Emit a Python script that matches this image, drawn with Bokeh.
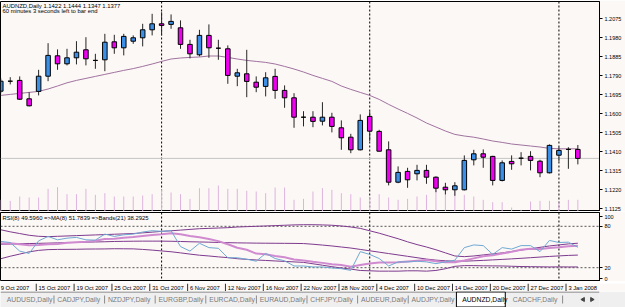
import math
from bokeh.plotting import figure
from bokeh.layouts import column
from bokeh.models import Range1d, FixedTicker, Span, Label, NumeralTickFormatter
from bokeh.embed import file_html
from bokeh.resources import INLINE
from bokeh.core.properties import value

symbol = "AUDNZD,Daily"
status_text = "60 minutes 3 seconds left to bar end"

dates = ["2007-10-09", "2007-10-10", "2007-10-11", "2007-10-12", "2007-10-15", "2007-10-16", "2007-10-17",
         "2007-10-18", "2007-10-19", "2007-10-22", "2007-10-23", "2007-10-24", "2007-10-25", "2007-10-26",
         "2007-10-29", "2007-10-30", "2007-10-31", "2007-11-01", "2007-11-02", "2007-11-05", "2007-11-06",
         "2007-11-07", "2007-11-08", "2007-11-09", "2007-11-12", "2007-11-13", "2007-11-14", "2007-11-15",
         "2007-11-16", "2007-11-19", "2007-11-20", "2007-11-21", "2007-11-22", "2007-11-23", "2007-11-26",
         "2007-11-27", "2007-11-28", "2007-11-29", "2007-11-30", "2007-12-03", "2007-12-04", "2007-12-05",
         "2007-12-06", "2007-12-07", "2007-12-10", "2007-12-11", "2007-12-12", "2007-12-13", "2007-12-14",
         "2007-12-17", "2007-12-18", "2007-12-19", "2007-12-20", "2007-12-21", "2007-12-24", "2007-12-26",
         "2007-12-27", "2007-12-28", "2007-12-31", "2008-01-02", "2008-01-03", "2008-01-04"]

opens = [1.1713, 1.1763, 1.1767, 1.1675, 1.1712, 1.1788, 1.1890, 1.1850, 1.1880, 1.1920,
         1.1867, 1.1870, 1.1960, 1.1930, 1.1963, 1.1980, 1.2020, 1.2050, 1.2047, 1.2030,
         1.1947, 1.1895, 1.1992, 1.1928, 1.1925, 1.1788, 1.1800, 1.1758, 1.1737, 1.1787,
         1.1717, 1.1680, 1.1583, 1.1583, 1.1563, 1.1583, 1.1530, 1.1483, 1.1420, 1.1587,
         1.1512, 1.1420, 1.1258, 1.1312, 1.1300, 1.1317, 1.1283, 1.1233, 1.1220, 1.1220,
         1.1370, 1.1400, 1.1387, 1.1267, 1.1362, 1.1378, 1.1387, 1.1363, 1.1305, 1.1393,
         1.1422, 1.1422]
highs = [1.1777, 1.1783, 1.1787, 1.1708, 1.1820, 1.1953, 1.1922, 1.1925, 1.1963, 1.1983,
         1.1900, 1.2000, 1.1995, 1.2000, 1.1992, 1.2050, 1.2100, 1.2108, 1.2097, 1.2067,
         1.1970, 1.2020, 1.2047, 1.1970, 1.1942, 1.1825, 1.1920, 1.1787, 1.1808, 1.1825,
         1.1742, 1.1703, 1.1613, 1.1613, 1.1658, 1.1605, 1.1567, 1.1500, 1.1597, 1.1612,
         1.1520, 1.1462, 1.1337, 1.1330, 1.1345, 1.1345, 1.1287, 1.1255, 1.1258, 1.1392,
         1.1420, 1.1422, 1.1390, 1.1367, 1.1392, 1.1408, 1.1413, 1.1370, 1.1447, 1.1433,
         1.1433, 1.1444]
lows = [1.1702, 1.1747, 1.1669, 1.1637, 1.1692, 1.1763, 1.1820, 1.1842, 1.1847, 1.1842,
        1.1825, 1.1813, 1.1900, 1.1892, 1.1950, 1.1937, 1.1992, 1.1992, 1.2025, 1.1925,
        1.1877, 1.1887, 1.1880, 1.1870, 1.1750, 1.1738, 1.1683, 1.1708, 1.1687, 1.1675,
        1.1630, 1.1530, 1.1537, 1.1533, 1.1542, 1.1507, 1.1420, 1.1403, 1.1417, 1.1463,
        1.1412, 1.1242, 1.1253, 1.1230, 1.1267, 1.1250, 1.1208, 1.1197, 1.1190, 1.1217,
        1.1342, 1.1330, 1.1242, 1.1262, 1.1320, 1.1342, 1.1317, 1.1283, 1.1302, 1.1362,
        1.1325, 1.1347]
closes = [1.1763, 1.1763, 1.1673, 1.1640, 1.1788, 1.1892, 1.1850, 1.1880, 1.1908, 1.1875,
          1.1867, 1.1958, 1.1930, 1.1987, 1.1980, 1.2020, 1.2050, 1.2042, 1.2062, 1.1947,
          1.1900, 1.1992, 1.1930, 1.1928, 1.1792, 1.1805, 1.1762, 1.1733, 1.1780, 1.1717,
          1.1680, 1.1583, 1.1583, 1.1562, 1.1583, 1.1537, 1.1480, 1.1420, 1.1567, 1.1513,
          1.1413, 1.1258, 1.1307, 1.1270, 1.1317, 1.1283, 1.1228, 1.1220, 1.1240, 1.1367,
          1.1400, 1.1383, 1.1267, 1.1355, 1.1350, 1.1378, 1.1367, 1.1305, 1.1442, 1.1417,
          1.1422, 1.1377]
volumes = [1750, 1600, 2250, 2100, 2100, 3400, 3650, 2600, 2600, 3400, 2500, 2750, 2250, 2250,
           2250, 2400, 2600, 3250, 2850, 2600, 1900, 3500, 3500, 3900, 3400, 3400, 3100, 3000,
           2750, 3600, 3600, 1750, 1900, 3000, 3500, 3250, 2750, 2600, 2100, 2100, 2600, 2100,
           1750, 1900, 2250, 2500, 3900, 2750, 3100, 2500, 2250, 1750, 1400, 1400, 600, 250,
           1500, 1600, 1600, 1400, 1750, 1750]
price_ma = [1.1692, 1.1697, 1.1702, 1.1707, 1.1712, 1.1724, 1.1739, 1.1755, 1.1767, 1.1777,
            1.1787, 1.1797, 1.1807, 1.1817, 1.1826, 1.1837, 1.1849, 1.1862, 1.1874, 1.1879,
            1.1882, 1.1884, 1.1889, 1.1889, 1.1882, 1.1874, 1.1867, 1.1862, 1.1857, 1.1849,
            1.1837, 1.1824, 1.1809, 1.1792, 1.1777, 1.1762, 1.1739, 1.1722, 1.1707, 1.1692,
            1.1672, 1.1647, 1.1624, 1.1602, 1.1579, 1.1554, 1.1534, 1.1514, 1.1497, 1.1489,
            1.1483, 1.1474, 1.1464, 1.1457, 1.1449, 1.1444, 1.1439, 1.1434, 1.1427, 1.1425,
            1.1425, 1.1425]

rsi = [58, 56.5, 44, 40.7, 58.9, 65.3, 60.4, 62.8, 63.9, 60.4, 60, 68.7, 65.3, 67.7, 68.7, 71.7,
       73.6, 72.7, 73.6, 50.6, 44.1, 55.4, 49.1, 48.1, 34.4, 34.4, 32.3, 29.4, 40.7, 33.3, 30, 22.5,
       22.5, 21.1, 21.1, 19.6, 18.6, 16.1, 43.3, 39.2, 33.3, 22.5, 28.4, 28.4, 29.4, 28.4, 25.9, 28.4,
       30.9, 49.1, 53, 52, 39.2, 49.1, 47, 52, 52, 43.3, 59.5, 56.5, 57, 49.5960]
rsi_ma = [55, 55.5, 54, 52.5, 53, 54, 54.5, 56, 57, 57.5, 59, 61.5, 62, 63.5, 64.5, 66, 67.5, 68.5,
          70, 68.5, 66, 64, 61.5, 58.5, 54, 49, 46, 40.5, 39.5, 37, 35, 32, 30.5, 28.5, 27, 25, 24,
          21.5, 24, 26, 27.5, 27.5, 28, 29, 30, 31, 29.5, 28, 28, 30.5, 33.5, 36.5, 38, 40.5, 43, 46,
          47.5, 47, 48.5, 49.5, 51, 51.7839]
band_up = [75, 72, 69.5, 67, 65.5, 65, 65.5, 66, 66.5, 67, 67.5, 68, 68.5, 69, 69.5, 70.5, 71.5,
           72.7, 73.5, 74.5, 75.5, 76.5, 77, 77.5, 78, 79, 79.5, 80, 80.5, 81, 81.5, 82, 82.3, 82.3,
           82, 81.5, 80.5, 79, 77, 73.5, 70, 66, 62, 57.5, 53.5, 50, 46, 41.5, 37, 36, 37, 38.5, 40,
           41.5, 43.5, 45.5, 47.5, 49.5, 51.5, 53, 54.5, 55.5]
band_mid = [54, 54.3, 54.6, 55, 55.3, 55.6, 56, 56.3, 56.6, 57, 57.3, 57.6, 58, 58.2, 58.4, 58.5,
            58.5, 58.5, 58.3, 58, 57.6, 57.3, 57, 56.6, 56.3, 56, 55.8, 55.6, 55.5, 55.4, 55.3, 55.2,
            55, 54, 52.8, 51.5, 50, 48.5, 46.5, 44.5, 42.5, 40.5, 38.5, 36.5, 34.5, 32.5, 31, 30,
            29.5, 29.5, 30, 30.6, 31.3, 32, 32.8, 33.6, 34.5, 35.4, 36.3, 37.1, 37.8, 38.2925]
band_lo = [33, 36.6, 39.7, 43, 45.1, 46.2, 46.5, 46.6, 46.7, 47, 47.1, 47.2, 47.5, 47.4, 47.3, 46.5,
           45.5, 44.3, 43.1, 41.5, 39.7, 38.1, 37, 35.7, 34.6, 33, 32.1, 31.2, 30.5, 29.8, 29.1,
           28.4, 27.7, 25.7, 23.6, 21.5, 19.5, 18, 16, 15.5, 15, 15, 15, 15.5, 15.5, 15, 16, 18.5,
           22, 23, 23, 22.7, 22.6, 22.5, 22.1, 21.7, 21.5, 21.3, 21.1, 21.2, 21.1, 21.1]

price_ticks = [1.1125, 1.1220, 1.1315, 1.1410, 1.1505, 1.1600, 1.1695, 1.1790, 1.1885, 1.1980, 1.2075]
rsi_tick_labels = {4: "0", 20: "20", 80: "80", 94: "100"}
rsi_levels = [20, 80]
date_tick_labels = ["9 Oct 2007", "15 Oct 2007", "19 Oct 2007", "25 Oct 2007", "31 Oct 2007",
                    "6 Nov 2007", "12 Nov 2007", "16 Nov 2007", "22 Nov 2007", "28 Nov 2007",
                    "4 Dec 2007", "10 Dec 2007", "14 Dec 2007", "20 Dec 2007", "27 Dec 2007", "3 Jan 2008"]
tabs = ["AUDUSD,Daily", "CADJPY,Daily", "NZDJPY,Daily", "EURGBP,Daily", "EURCAD,Daily",
        "EURAUD,Daily", "CHFJPY,Daily", "AUDEUR,Daily", "AUDJPY,Daily", "AUDNZD,Daily", "CADCHF,Daily"]
active_tab = "AUDNZD,Daily"

n = len(closes)
for arr in (dates, opens, highs, lows, volumes, price_ma, rsi, rsi_ma, band_up, band_mid, band_lo):
    assert len(arr) == n, len(arr)

BG = "#FCF8F6"
FONT = "Liberation Sans"
FS = "5.5px"
FS_T = "5.9px"
BLUE = "#3B8FE6"
MAG = "#F000F0"
idx = list(range(n))

BAR_PX = 9.46
FRAME_W = 599
x0 = -0.03
xr = Range1d(x0, x0 + FRAME_W / BAR_PX)

seps = [i for i in range(1, n) if dates[i][5:7] != dates[i - 1][5:7]]


def style_right_axis(ax, ticks, fmt):
    ax.ticker = FixedTicker(ticks=ticks)
    ax.formatter = NumeralTickFormatter(format=fmt)
    ax.major_label_text_font = FONT
    ax.major_label_text_font_size = FS
    ax.major_label_text_color = "black"
    ax.major_tick_out = 3
    ax.major_tick_in = 0
    ax.minor_tick_out = 0
    ax.minor_tick_in = 0
    ax.major_label_standoff = 2
    ax.axis_line_color = "black"


# ---------------- main price panel ----------------
y_top, y_bot = 1.21615, 1.11115
pA = figure(width=625, height=211, x_range=xr, y_range=Range1d(y_bot, y_top),
            output_backend="svg", toolbar_location=None, x_axis_location=None,
            y_axis_location="right", min_border_left=0, min_border_right=26,
            min_border_top=1, min_border_bottom=0, background_fill_color=BG,
            border_fill_color=BG, outline_line_color="black", outline_line_width=1)
pA.grid.visible = False
style_right_axis(pA.yaxis[0], price_ticks, "0.0000")

for s in seps:
    pA.add_layout(Span(location=s, dimension="height", line_color="black",
                       line_dash="2 2", line_width=1, level="underlay"))
pA.add_layout(Span(location=closes[-1], dimension="width", line_color="#C4C4C4",
                   line_width=1, level="underlay"))

pA.extra_y_ranges = {"vol": Range1d(0, 31500)}
pA.segment(x0=idx, y0=[0] * n, x1=idx, y1=volumes, y_range_name="vol",
           line_color="#DEB3DE", line_width=1)

pA.line(idx, price_ma, line_color="#A0729F", line_width=1)

body_top = [max(o, c) for o, c in zip(opens, closes)]
body_bot = [min(o, c) for o, c in zip(opens, closes)]
body_col = [BLUE if c > o else (MAG if c < o else "black") for o, c in zip(opens, closes)]
pA.segment(x0=idx, y0=lows, x1=idx, y1=highs, line_color="#262626", line_width=1)
pA.vbar(x=idx, width=0.48, top=body_top, bottom=body_bot, fill_color=body_col,
        line_color="black", line_width=1)

title = f"{symbol}  {opens[-1]:.4f} {highs[-1]:.4f} {lows[-1]:.4f} {closes[-1]:.4f}"
pA.add_layout(Label(x=x0, y=y_top, x_offset=2, y_offset=-1, text=title, text_font=FONT,
                    text_font_size=FS_T, text_color="black", text_baseline="top", text_align="left"))
pA.add_layout(Label(x=x0, y=y_top, x_offset=2, y_offset=-6.8, text=status_text, text_font=FONT,
                    text_font_size=FS_T, text_color="black", text_baseline="top", text_align="left"))
pA.add_layout(Label(x=xr.end, y=closes[-1], x_offset=1, text=f"{closes[-1]:.4f}",
                    text_font=FONT, text_font_size=FS, text_color="white",
                    background_fill_color="black", text_baseline="middle", text_align="left"))

# ---------------- RSI panel ----------------
pB = figure(width=625, height=70, x_range=xr, y_range=Range1d(0, 100),
            output_backend="svg", toolbar_location=None, x_axis_location=None,
            y_axis_location="right", min_border_left=0, min_border_right=26,
            min_border_top=1, min_border_bottom=0, background_fill_color=BG,
            border_fill_color=BG, outline_line_color="black", outline_line_width=1)
pB.grid.visible = False
style_right_axis(pB.yaxis[0], list(rsi_tick_labels.keys()), "0")
pB.yaxis[0].major_label_overrides = rsi_tick_labels

for s in seps:
    pB.add_layout(Span(location=s, dimension="height", line_color="black",
                       line_dash="2 2", line_width=1, level="underlay"))
for lv in rsi_levels:
    pB.add_layout(Span(location=lv, dimension="width", line_color="#555555",
                       line_dash="2 2", line_width=1, level="underlay"))

BAND = "#7E3A8E"
pB.line(idx, band_up, line_color=BAND, line_width=1)
pB.line(idx, band_lo, line_color=BAND, line_width=1)
pB.line(idx, band_mid, line_color=BAND, line_width=1)
pB.line(idx, rsi_ma, line_color="#D08AD0", line_width=2)
pB.line(idx, rsi, line_color="#6FA9D2", line_width=1)

rsi_text = f"RSI(8) {rsi[-1]:.4f}  =>MA(8) {rsi_ma[-1]:.4f}  =>Bands(21) {band_mid[-1]:.4f}"
pB.add_layout(Label(x=x0, y=100, x_offset=2, y_offset=-2, text=rsi_text, text_font=FONT,
                    text_font_size=FS_T, text_color="black", text_baseline="top", text_align="left"))

# ---------------- time scale ----------------
pD = figure(width=625, height=10, x_range=xr, y_range=Range1d(0, 10),
            output_backend="svg", toolbar_location=None, x_axis_location=None,
            y_axis_location=None, min_border_left=0, min_border_right=26,
            min_border_top=0, min_border_bottom=0, background_fill_color=BG,
            border_fill_color=BG, outline_line_color=None)
pD.grid.visible = False
tick_pos = list(range(0, n, 4))[:len(date_tick_labels)]
pD.segment(x0=[t - 0.25 for t in tick_pos], y0=[10] * len(tick_pos),
           x1=[t - 0.25 for t in tick_pos], y1=[2] * len(tick_pos),
           line_color="#333333", line_width=1)
pD.text(x=tick_pos, y=[8.2] * len(tick_pos), text=date_tick_labels, text_font=value(FONT),
        text_font_size="5.8px", text_color="black", text_baseline="top", text_align="left")

# ---------------- tab bar ----------------
TAB_BG = "#EFEFEF"
pC = figure(width=625, height=16, x_range=Range1d(0, 625), y_range=Range1d(0, 16),
            output_backend="svg", toolbar_location=None, x_axis_location=None,
            y_axis_location=None, min_border_left=0, min_border_right=0,
            min_border_top=0, min_border_bottom=0, background_fill_color=TAB_BG,
            border_fill_color=TAB_BG, outline_line_color=None)
pC.grid.visible = False
TAB_X0, TAB_STEP = 6.5, 52.8
tab_x = [TAB_X0 + i * TAB_STEP for i in range(len(tabs))]
a = tabs.index(active_tab)
pC.segment(x0=[0], y0=[15.5], x1=[625], y1=[15.5], line_color="#6E6E6E", line_width=1)
pC.quad(left=[tab_x[a] - 6], right=[tab_x[a] + 45], bottom=[0.5], top=[15.5],
        fill_color="white", line_color="black", line_width=1)
tab_col = ["black" if t == active_tab else "#7A7A7A" for t in tabs]
pC.text(x=tab_x, y=[8] * len(tabs), text=tabs, text_font=value(FONT), text_font_size="6.8px",
        text_color=tab_col, text_baseline="middle", text_align="left")
sep_x = [tab_x[i + 1] - 3.5 for i in range(len(tabs) - 1) if i != a and i + 1 != a]
sep_x.append(tab_x[-1] + 52)
pC.segment(x0=sep_x, y0=[4] * len(sep_x), x1=sep_x, y1=[12] * len(sep_x),
           line_color="#8A8A8A", line_width=1)
pC.scatter(x=[608, 617], y=[8, 8], marker="triangle", angle=[math.pi / 2, -math.pi / 2],
           size=4, fill_color="#444444", line_color="#444444")

layout = column(pA, pB, pD, pC, spacing=0)
open("out.html", "w").write(file_html(layout, INLINE))
